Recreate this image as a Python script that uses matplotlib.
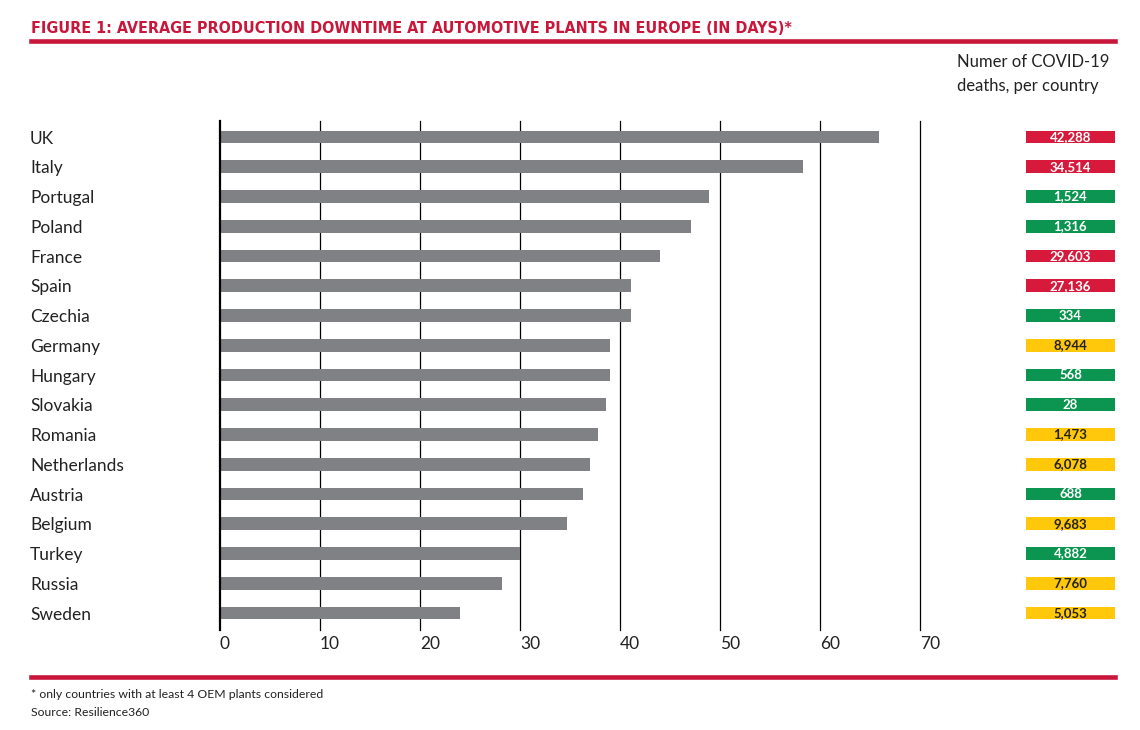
import matplotlib
matplotlib.use("Agg")
import matplotlib.pyplot as plt
from matplotlib.lines import Line2D

plt.rcParams['font.family'] = ['Lato', 'DejaVu Sans']

countries = ["UK", "Italy", "Portugal", "Poland", "France", "Spain", "Czechia", "Germany",
             "Hungary", "Slovakia", "Romania", "Netherlands", "Austria", "Belgium", "Turkey",
             "Russia", "Sweden"]
downtime_days = [65.9, 58.3, 48.9, 47.1, 44.0, 41.1, 41.1, 39.0, 39.0, 38.6, 37.8, 37.0,
                 36.3, 34.7, 30.0, 28.2, 24.0]
covid_deaths = ["42,288", "34,514", "1,524", "1,316", "29,603", "27,136", "334", "8,944",
                "568", "28", "1,473", "6,078", "688", "9,683", "4,882", "7,760", "5,053"]
death_level = ["high", "high", "low", "low", "high", "high", "low", "medium", "low", "low",
               "medium", "medium", "low", "medium", "low", "medium", "medium"]
x_ticks = [0, 10, 20, 30, 40, 50, 60, 70]

title = "FIGURE 1: AVERAGE PRODUCTION DOWNTIME AT AUTOMOTIVE PLANTS IN EUROPE (IN DAYS)*"
right_header = "Numer of COVID-19\ndeaths, per country"
footnote = "* only countries with at least 4 OEM plants considered"
source = "Source: Resilience360"

RED = "#C8173A"
GRAY = "#808184"
level_colors = {"high": "#D7193B", "low": "#0B9550", "medium": "#FFC80A"}
text_colors = {"high": "white", "low": "white", "medium": "#222222"}

W, H = 1140, 730
fig = plt.figure(figsize=(W / 100, H / 100), dpi=100)
fig.patch.set_facecolor("white")

n = len(countries)
ypos = list(range(n))
ax_bottom = 1 - 630 / H
ax_height = (630 - 121) / H
ylim = (n - 1 + 0.57, -0.54)

ax = fig.add_axes([220 / W, ax_bottom, 700 / W, ax_height])
ax.barh(ypos, downtime_days, height=0.43, color=GRAY, zorder=2)
ax.set_xlim(0, 70)
ax.set_ylim(*ylim)
for v in x_ticks[1:]:
    ax.axvline(v, color="black", lw=0.9, zorder=1, clip_on=False)
ax.axvline(0, color="black", lw=1.6, zorder=3, clip_on=False)
for s in ax.spines.values():
    s.set_visible(False)
ax.set_xticks(x_ticks)
ax.tick_params(axis="x", length=0, pad=4, labelsize=12.5, labelcolor="#222222")
for lab in ax.get_xticklabels():
    lab.set_ha("left")
ax.set_yticks(ypos, labels=countries)
ax.tick_params(axis="y", length=0, pad=(220 - 30) * 0.72, labelsize=12.5, labelcolor="#222222")
for lab in ax.get_yticklabels():
    lab.set_ha("left")

bx = fig.add_axes([1026 / W, ax_bottom, 89 / W, ax_height])
bx.barh(ypos, [1] * n, height=0.43, color=[level_colors[l] for l in death_level])
bx.set_xlim(0, 1)
bx.set_ylim(*ylim)
bx.axis("off")
for i, (t, l) in enumerate(zip(covid_deaths, death_level)):
    bx.text(0.5, i, t, ha="center", va="center", color=text_colors[l], fontsize=9.5,
            fontweight="bold")

fig.text(31 / W, 1 - 28.5 / H, title, ha="left", va="center", color=RED, fontsize=11.5,
         fontweight="bold", fontstretch="condensed", family=["DejaVu Sans"])
fig.add_artist(Line2D([31 / W, 1115 / W], [1 - 40.5 / H] * 2, color=RED, lw=3.3))
fig.text(957 / W, 1 - 74 / H, right_header, ha="left", va="center", fontsize=12,
         color="#222222", linespacing=1.55)

fig.add_artist(Line2D([31 / W, 1115 / W], [1 - 676.5 / H] * 2, color=RED, lw=3.3))
fig.text(31 / W, 1 - 695 / H, footnote, ha="left", va="center", fontsize=8.8, color="#222222")
fig.text(31 / W, 1 - 713 / H, source, ha="left", va="center", fontsize=8.8, color="#222222")

fig.savefig("out.png", dpi=100)
